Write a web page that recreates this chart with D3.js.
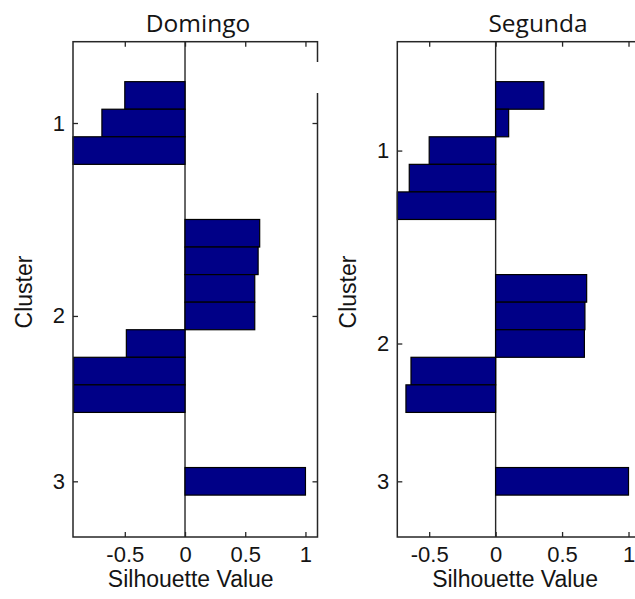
<!DOCTYPE html>
<html>
<head>
<meta charset="utf-8">
<script src="https://cdn.jsdelivr.net/npm/d3@7/dist/d3.min.js"></script>
<style>
  html, body { margin: 0; padding: 0; background: #fff; }
  svg { display: block; }
  .tick text { font-family: "Liberation Sans", Arial, sans-serif; font-size: 22px; fill: #141414; }
  .axis-label { font-family: "Liberation Sans", Arial, sans-serif; font-size: 23px; fill: #141414; }
  .panel-title { font-family: "Open Sans", "Noto Sans", sans-serif; font-size: 24.5px; fill: #141414; }
</style>
</head>
<body>
<svg id="chart" width="635" height="599"></svg>
<script>
// Silhouette values per cluster, sorted high to low inside each cluster
const clusterLabels = ["1", "2", "3"];
const xTickValues = [-0.5, 0, 0.5, 1];

const domingoCluster1 = [-0.50, -0.69, -0.93];
const domingoCluster2 = [0.62, 0.607, 0.579, 0.579, -0.487, -0.925, -0.925];
const domingoCluster3 = [1.0];

const segundaCluster1 = [0.363, 0.098, -0.50, -0.65, -0.74];
const segundaCluster2 = [0.685, 0.672, 0.668, -0.637, -0.675];
const segundaCluster3 = [1.0];

const panelTitles = ["Domingo", "Segunda"];
const xLabel = "Silhouette Value";
const yLabel = "Cluster";

// Layout
const svg = d3.select("#chart");
const plotTop = 41.7, plotBottom = 537, plotWidth = 244.5;
const xMax = 1.1;
const gapRows = 2;
const barFill = "#000087";
const inkColor = "#262626";

const panels = [
  { title: panelTitles[0], left: 73, titleX: 198, groups: [domingoCluster1, domingoCluster2, domingoCluster3] },
  { title: panelTitles[1], left: 397.3, titleX: 538, groups: [segundaCluster1, segundaCluster2, segundaCluster3] }
];

// Stack bars row by row, leaving empty rows between clusters
function stackRows(groups) {
  let row = gapRows;
  const rows = [];
  const centers = [];
  groups.forEach((vals, ci) => {
    const first = row + 1;
    vals.forEach(v => { row += 1; rows.push({ cluster: ci, value: v, row }); });
    centers.push((first + row) / 2);
    row += gapRows;
  });
  return { rows, centers, total: row };
}

panels.forEach(p => {
  const { rows, centers } = stackRows(p.groups);
  const allVals = rows.map(r => r.value);

  const x = d3.scaleLinear()
    .domain([d3.min(allVals.concat([0])), xMax])
    .range([p.left, p.left + plotWidth]);
  const y = d3.scaleLinear()
    .domain([1.05, 19.02])
    .range([plotTop, plotBottom]);

  const g = svg.append("g");

  // Baseline at zero
  g.append("line")
    .attr("x1", x(0)).attr("x2", x(0))
    .attr("y1", plotTop).attr("y2", plotBottom)
    .attr("stroke", inkColor).attr("stroke-width", 1.4);

  // Bars
  g.selectAll("rect.bar")
    .data(rows)
    .join("rect")
    .attr("class", "bar")
    .attr("x", d => x(Math.min(0, d.value)))
    .attr("width", d => Math.abs(x(d.value) - x(0)))
    .attr("y", d => y(d.row - 0.5))
    .attr("height", d => y(d.row + 0.5) - y(d.row - 0.5))
    .attr("fill", barFill)
    .attr("stroke", "#000")
    .attr("stroke-width", 1.2);

  // Axes with inward ticks on all four sides
  const tickLen = 5;
  const bottom = g.append("g")
    .attr("transform", `translate(0,${plotBottom})`)
    .call(d3.axisBottom(x).tickValues(xTickValues)
      .tickSizeInner(-tickLen).tickSizeOuter(0).tickPadding(9)
      .tickFormat(d => String(d)));
  const top = g.append("g")
    .attr("transform", `translate(0,${plotTop})`)
    .call(d3.axisTop(x).tickValues(xTickValues)
      .tickSizeInner(-tickLen).tickSizeOuter(0).tickFormat(""));
  const left = g.append("g")
    .attr("transform", `translate(${p.left},0)`)
    .call(d3.axisLeft(y).tickValues(centers)
      .tickSizeInner(-tickLen).tickSizeOuter(0).tickPadding(8)
      .tickFormat((d, i) => clusterLabels[i]));
  const right = g.append("g")
    .attr("transform", `translate(${p.left + plotWidth},0)`)
    .call(d3.axisRight(y).tickValues(centers)
      .tickSizeInner(-tickLen).tickSizeOuter(0).tickFormat(""));

  [bottom, top, left, right].forEach(a => {
    a.select(".domain").remove();
    a.selectAll(".tick line").attr("stroke", inkColor).attr("stroke-width", 1.3);
  });

  // Plot frame
  g.append("rect")
    .attr("x", p.left).attr("y", plotTop)
    .attr("width", plotWidth).attr("height", plotBottom - plotTop)
    .attr("fill", "none").attr("stroke", inkColor).attr("stroke-width", 1.5);

  // Titles and axis labels
  g.append("text")
    .attr("class", "panel-title")
    .attr("x", p.titleX).attr("y", 31.5)
    .attr("text-anchor", "middle")
    .text(p.title);

  g.append("text")
    .attr("class", "axis-label")
    .attr("x", p.left + plotWidth / 2 - 4.5).attr("y", 587)
    .attr("text-anchor", "middle")
    .text(xLabel);

  g.append("text")
    .attr("class", "axis-label")
    .attr("transform", `translate(${p.left - 41},${292}) rotate(-90)`)
    .attr("text-anchor", "middle")
    .text(yLabel);
});

// Break in the first frame's right edge
svg.append("rect")
  .attr("x", 315.5).attr("y", 62).attr("width", 5).attr("height", 31)
  .attr("fill", "#fff");
</script>
</body>
</html>
